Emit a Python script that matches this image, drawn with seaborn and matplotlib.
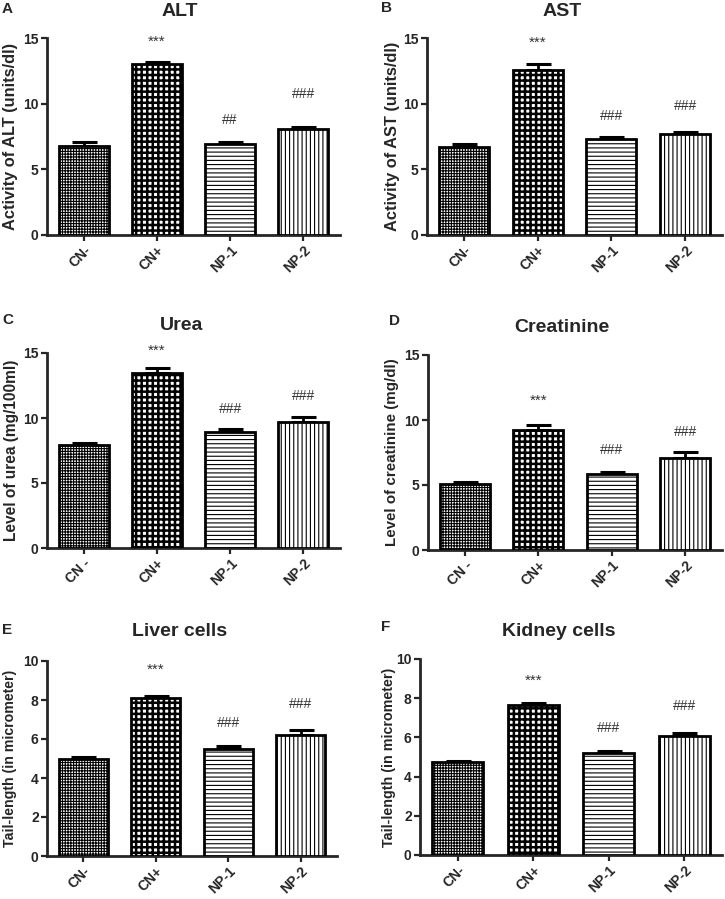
import numpy as np
import matplotlib
matplotlib.use("Agg")
import matplotlib.pyplot as plt
import seaborn as sns

groups = ["CN-", "CN+", "NP-1", "NP-2"]
groups_sp = ["CN -", "CN+", "NP-1", "NP-2"]

alt_mean = [6.8, 13.0, 6.9, 8.1]
alt_err = [0.25, 0.2, 0.15, 0.15]
alt_sig = ["", "***", "##", "###"]
alt_sig_y = [0, 14.7, 8.75, 10.7]

ast_mean = [6.7, 12.6, 7.3, 7.7]
ast_err = [0.25, 0.45, 0.2, 0.15]
ast_sig = ["", "***", "###", "###"]
ast_sig_y = [0, 14.6, 9.05, 9.8]

urea_mean = [7.95, 13.5, 8.9, 9.7]
urea_err = [0.15, 0.32, 0.22, 0.38]
urea_sig = ["", "***", "###", "###"]
urea_sig_y = [0, 15.2, 10.7, 11.7]

creat_mean = [5.1, 9.2, 5.85, 7.1]
creat_err = [0.12, 0.38, 0.12, 0.45]
creat_sig = ["", "***", "###", "###"]
creat_sig_y = [0, 11.5, 7.7, 9.1]

liver_mean = [5.0, 8.12, 5.47, 6.18]
liver_err = [0.1, 0.1, 0.17, 0.27]
liver_sig = ["", "***", "###", "###"]
liver_sig_y = [0, 9.57, 6.8, 7.8]

kidney_mean = [4.72, 7.63, 5.2, 6.08]
kidney_err = [0.1, 0.12, 0.13, 0.17]
kidney_sig = ["", "***", "###", "###"]
kidney_sig_y = [0, 8.9, 6.47, 7.6]

sns.set_style("white")
plt.rcParams["font.family"] = ["Liberation Sans", "DejaVu Sans"]
plt.rcParams["hatch.linewidth"] = 1.0

fig = plt.figure(figsize=(7.25, 8.99), dpi=100)
W, H = 725.0, 899.0

# hatch, hatch line width per group
hatches = [("++++++", 0.8), ("+++", 1.8), ("----", 0.8), ("||||", 0.8)]


def panel(box, labels, mean, err, sig, sig_y, ymax, ystep, ylabel, ylab_size,
          title, title_x, title_y, letter, letter_xy, ylab_x):
    left, right, ytop, ybot = box
    ax = fig.add_axes([left / W, 1 - ybot / H, (right - left) / W, (ybot - ytop) / H])
    sns.barplot(x=labels, y=mean, ax=ax, color="white", edgecolor="black",
                linewidth=2.0, width=0.68, errorbar=None, zorder=3)
    for p, (h, lw) in zip(ax.patches, hatches):
        p.set_hatch(h)
        if hasattr(p, "set_hatch_linewidth"):
            p.set_hatch_linewidth(lw)
    xs = [p.get_x() + p.get_width() / 2 for p in ax.patches]
    ax.errorbar(xs, mean, yerr=[np.zeros(len(err)), err], fmt="none",
                ecolor="black", elinewidth=2.0, capsize=9, capthick=2.2, zorder=2)
    for x, s, y in zip(xs, sig, sig_y):
        if s:
            ax.text(x, y, s, ha="center", va="center",
                    fontsize=11 if s.startswith("*") else 10, color="#333333")
    ax.set_xlim(-0.5, 3.5)
    ax.set_ylim(0, ymax)
    ax.set_yticks(np.arange(0, ymax + 0.1, ystep))
    sns.despine(ax=ax)
    for s in ["left", "bottom"]:
        ax.spines[s].set_linewidth(2.0)
    ax.tick_params(axis="both", direction="out", length=4, width=1.6,
                   labelsize=10, pad=2, left=True, bottom=True)
    for t in ax.get_yticklabels():
        t.set_fontweight("bold")
    ax.set_xticks(range(len(labels)))
    ax.set_xticklabels(labels, rotation=45, ha="right", rotation_mode="anchor",
                       fontweight="bold", fontsize=10)
    ax.set_xlabel("")
    ax.set_ylabel(ylabel, fontsize=ylab_size, fontweight="bold", va="center")
    ax.yaxis.set_label_coords((ylab_x - left) / (right - left), 0.5)
    fig.text(title_x / W, 1 - title_y / H, title, ha="center", va="center",
             fontsize=14, fontweight="bold")
    fig.text(letter_xy[0] / W, 1 - letter_xy[1] / H, letter, ha="center",
             va="center", fontsize=11, fontweight="bold")
    return ax


panel((47, 340, 38, 235), groups, alt_mean, alt_err, alt_sig, alt_sig_y, 15, 5,
      "Activity of ALT (units/dl)", 11.8, "ALT", 180, 11, "A", (7, 9), 11)
panel((427, 722, 38, 235), groups, ast_mean, ast_err, ast_sig, ast_sig_y, 15, 5,
      "Activity of AST (units/dl)", 11.8, "AST", 562, 11, "B", (386, 8), 392)
panel((47, 340, 353, 548), groups_sp, urea_mean, urea_err, urea_sig, urea_sig_y, 15, 5,
      "Level of urea (mg/100ml)", 11.2, "Urea", 182, 325, "C", (8, 320), 12)
panel((428, 722, 355, 550), groups_sp, creat_mean, creat_err, creat_sig, creat_sig_y, 15, 5,
      "Level of creatinine (mg/dl)", 10.9, "Creatinine", 562, 327, "D", (394, 321), 392)
panel((47, 337, 661, 856), groups, liver_mean, liver_err, liver_sig, liver_sig_y, 10, 2,
      "Tail-length (in micrometer)", 10.2, "Liver cells", 180, 632, "E", (7, 630), 10)
panel((420, 722, 659, 855), groups, kidney_mean, kidney_err, kidney_sig, kidney_sig_y, 10, 2,
      "Tail-length (in micrometer)", 10.3, "Kidney cells", 559, 632, "F", (386, 627), 389)

fig.savefig("out.png", dpi=100)
